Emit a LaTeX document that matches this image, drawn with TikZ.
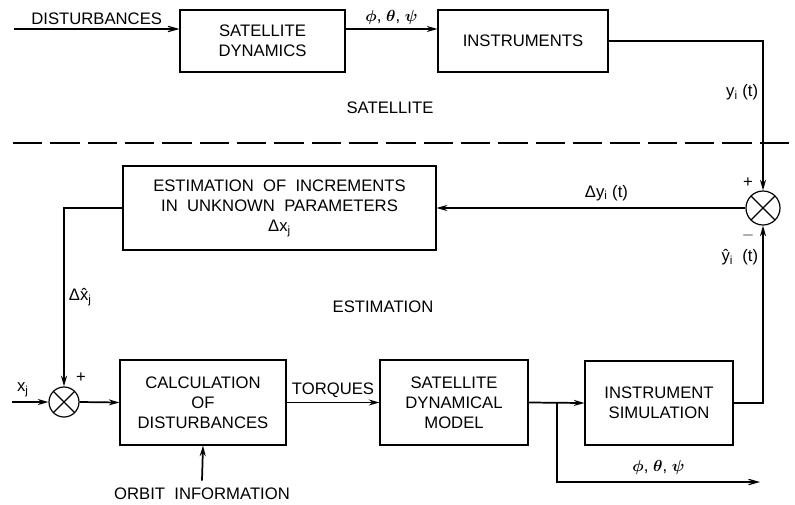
\documentclass[tikz,border=0pt]{standalone}
\usepackage{amsmath}
\usepackage{fontspec}
\setmainfont{Liberation Sans}
\usetikzlibrary{arrows.meta,positioning}

\begin{document}
\begin{tikzpicture}[x=0.75pt,y=-0.75pt,font=\fontsize{12.5}{15}\selectfont,line width=1.3pt,
  box/.style={draw,line width=0.8pt,align=center,inner sep=2pt},
  sum/.style={draw,circle,line width=0.9pt,inner sep=0pt,
    path picture={\draw[line width=0.9pt] (path picture bounding box.north west)--(path picture bounding box.south east)
      (path picture bounding box.north east)--(path picture bounding box.south west);}},
  arr/.style={-{Stealth[length=8pt,width=4.5pt]}},
  thin/.style={line width=0.9pt,-{Straight Barb[length=7pt,width=4pt]}},
  lbl/.style={inner sep=2pt}]
\useasboundingbox (0,0) rectangle (795,504);
% satellite part
\node[box,minimum width=123.75pt,minimum height=46.5pt] (satdyn) at (262.5,41) {SATELLITE\\DYNAMICS};
\node[box,minimum width=127.5pt,minimum height=46.5pt] (instr) at (523,41) {INSTRUMENTS};
\node[lbl] (satlbl) at (390,108) {SATELLITE};
\coordinate (dst) at (14,29);
\draw[thin] (dst) -- (dst -| satdyn.west) node[lbl,midway,above=1pt] {DISTURBANCES};
\draw[arr] (dst -| satdyn.east) -- (dst -| instr.west) node[lbl,midway,above=1pt] {$\boldsymbol{\phi}$, $\boldsymbol{\theta}$, $\boldsymbol{\psi}$};
% dividing line
\coordinate (dl) at (13,143);
\coordinate (dr) at (795,143);
\draw[line width=0.8pt,dash pattern=on 22pt off 6pt] (dl) -- (dr);
% estimation part
\node[sum,minimum size=25.5pt] (sum1) at (763,208) {};
\node[box,minimum width=234.75pt,minimum height=63pt] (estim) at (279.5,208) {ESTIMATION \ OF \ INCREMENTS\\IN \ UNKNOWN \ PARAMETERS\\Δx$_{\text{j}}$};
\node[sum,minimum size=22.5pt] (sum2) at (64,402) {};
\node[box,minimum width=124.5pt,minimum height=63.75pt] (calc) at (203,402.5) {CALCULATION\\OF\\DISTURBANCES};
\node[box,minimum width=111pt,minimum height=63.75pt] (model) at (454,402.5) {SATELLITE\\DYNAMICAL\\MODEL};
\node[box,minimum width=111pt,minimum height=63pt] (sim) at (659,403) {INSTRUMENT\\SIMULATION};
\node[lbl] (estlbl) at (383,307) {ESTIMATION};
\node[lbl] (orbit) at (202,494) {ORBIT \ INFORMATION};
\coordinate (xin) at (12,402);
\coordinate (br) at (557,403);
\coordinate (out) at (760,482);
\draw[arr] (instr.east) -| (sum1.north) node[lbl,pos=0.67,left=1pt] {y$_{\text{i}}$ (t)};
\draw[arr] (sum1.west) -- (estim.east) node[lbl,pos=0.45,above=3pt] {Δy$_{\text{i}}$ (t)};
\draw[arr] (estim.west) -| (sum2.north) node[lbl,pos=0.75,right=1pt] {Δx̂$_{\text{j}}$};
\draw[arr] (xin) -- (sum2.west) node[lbl,pos=0.3,above=1pt] {x$_{\text{j}}$};
\draw[arr] (sum2.east) -- (calc.west);
\draw[arr] (calc.east) -- (model.west) node[lbl,midway,above=1pt] {TORQUES};
\draw[arr] (orbit.north) ++(0,-4) -- (calc.south);
\draw[arr] (model.east) -- (sim.west);
\draw[thin] (br) |- (out) node[lbl,pos=0.75,above=3pt] {$\boldsymbol{\phi}$, $\boldsymbol{\theta}$, $\boldsymbol{\psi}$};
\draw[arr] (sim.east) -| (sum1.south) node[lbl,pos=0.91,left=1pt] {ŷ$_{\text{i}}$ \ (t)};
\node[lbl] (p1) at (748,183) {+};
\node[lbl] (m1) at (748,235) {$-$};
\node[lbl] (p2) at (81,378) {+};
\end{tikzpicture}
\end{document}
